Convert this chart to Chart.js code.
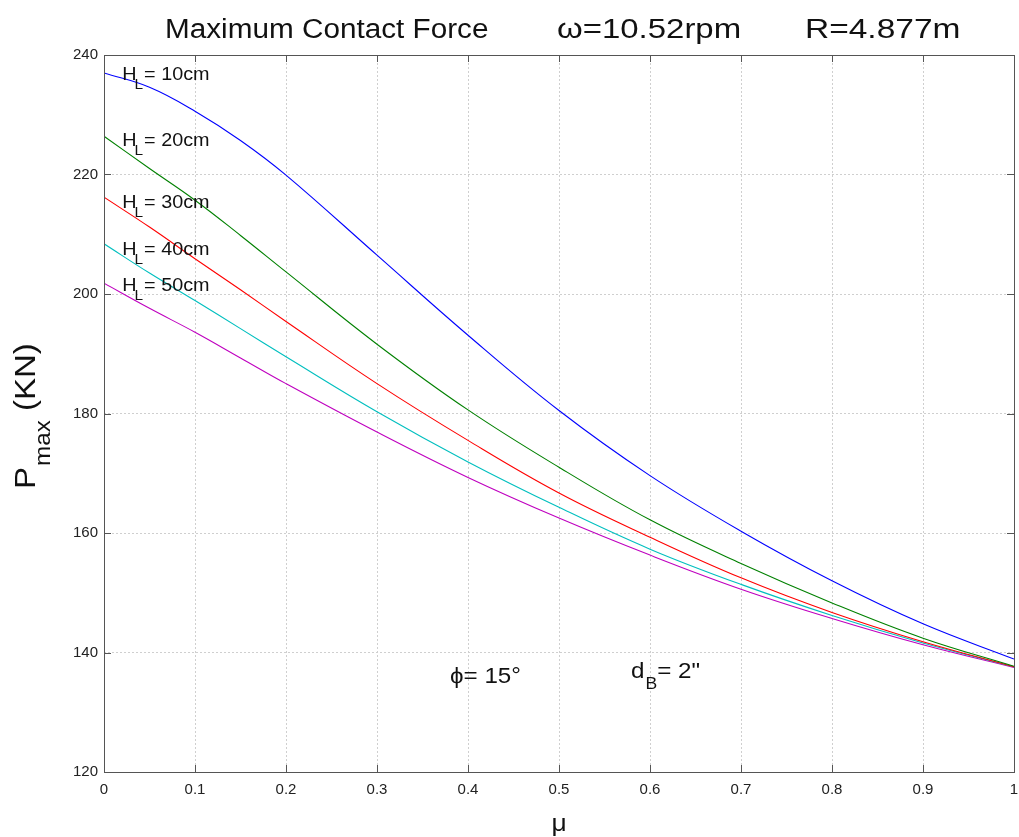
<!DOCTYPE html>
<html>
<head>
<meta charset="utf-8">
<title>Maximum Contact Force</title>
<script src="https://cdn.jsdelivr.net/npm/chart.js@4/dist/chart.umd.min.js"></script>
<style>
  html, body { margin: 0; padding: 0; background: #ffffff; }
  #wrap { width: 1019px; height: 837px; position: relative; }
</style>
</head>
<body>
<div id="wrap"><canvas id="chart" width="1019" height="837"></canvas></div>
<script>
// Friction coefficient samples (x axis)
const mu = [0, 0.05, 0.1, 0.15, 0.2, 0.3, 0.4, 0.5, 0.6, 0.7, 0.8, 0.9, 1.0];

// Maximum contact force P_max (KN) for each liner height H_L
const pH10 = [237.0, 234.6, 230.6, 225.7, 219.9, 206.5, 193.1, 180.5, 169.6, 160.3, 152.0, 144.8, 138.9];
const pH20 = [226.4, 221.0, 215.7, 209.8, 203.7, 191.6, 180.6, 171.0, 162.2, 154.9, 148.3, 142.4, 137.7];
const pH30 = [216.2, 211.2, 205.9, 200.7, 195.4, 185.0, 175.5, 166.7, 159.3, 152.5, 146.7, 141.8, 137.6];
const pH40 = [208.4, 203.5, 198.9, 194.2, 189.5, 180.3, 171.9, 164.3, 157.3, 151.4, 146.2, 141.6, 137.6];
const pH50 = [201.8, 197.6, 193.6, 189.3, 185.0, 176.9, 169.3, 162.5, 156.3, 150.6, 145.7, 141.3, 137.5];

const seriesNames = ['10cm', '20cm', '30cm', '40cm', '50cm'];
const seriesValues = [pH10, pH20, pH30, pH40, pH50];
const seriesColors = ['#0000ff', '#008000', '#ff0000', '#00bfbf', '#bf00bf'];

// Axis ticks
const xTicks = [0, 0.1, 0.2, 0.3, 0.4, 0.5, 0.6, 0.7, 0.8, 0.9, 1];
const yTicks = [120, 140, 160, 180, 200, 220, 240];

// Curve labels: anchor (mu, P) of the text baseline start
const labelMu = 0.02;
const labelP = [235.8, 224.8, 214.4, 206.6, 200.5];

const FONT = '"Liberation Sans", Arial, Helvetica, sans-serif';

function stretchedText(ctx, str, x, y, size, stretch, align) {
  const s = stretch || 1.1;
  ctx.save();
  ctx.font = size + 'px ' + FONT;
  const w = ctx.measureText(str).width * s;
  let left = x;
  if (align === 'center') left = x - w / 2;
  ctx.translate(left, y);
  ctx.scale(s, 1);
  ctx.textAlign = 'left';
  ctx.textBaseline = 'alphabetic';
  ctx.fillText(str, 0, 0);
  ctx.restore();
  return w;
}

// Frame, inward tick marks and text annotations
const decorations = {
  id: 'decorations',
  afterDraw(chart) {
    const ctx = chart.ctx;
    const a = chart.chartArea;
    const xs = chart.scales.x, ys = chart.scales.y;
    ctx.save();

    // plot box
    ctx.strokeStyle = '#555555';
    ctx.lineWidth = 1;
    ctx.strokeRect(Math.round(a.left) + 0.5, Math.round(a.top) + 0.5,
                   Math.round(a.right - a.left), Math.round(a.bottom - a.top));

    // inward ticks on all four sides
    const tl = 7;
    ctx.beginPath();
    xTicks.forEach(v => {
      const px = Math.round(xs.getPixelForValue(v)) + 0.5;
      ctx.moveTo(px, a.bottom); ctx.lineTo(px, a.bottom - tl);
      ctx.moveTo(px, a.top); ctx.lineTo(px, a.top + tl);
    });
    yTicks.forEach(v => {
      const py = Math.round(ys.getPixelForValue(v)) + 0.5;
      ctx.moveTo(a.left, py); ctx.lineTo(a.left + tl, py);
      ctx.moveTo(a.right, py); ctx.lineTo(a.right - tl, py);
    });
    ctx.stroke();

    ctx.fillStyle = '#111111';

    // title
    stretchedText(ctx, 'Maximum Contact Force', 165, 37.5, 27, 1.1);
    stretchedText(ctx, '\u03c9=10.52rpm', 557, 37.5, 27, 1.22);
    stretchedText(ctx, 'R=4.877m', 805, 37.5, 27, 1.24);

    // curve labels  H_L = ..
    seriesNames.forEach((name, i) => {
      const x0 = xs.getPixelForValue(labelMu);
      const y0 = ys.getPixelForValue(labelP[i]);
      const wH = stretchedText(ctx, 'H', x0, y0, 18);
      const wL = stretchedText(ctx, 'L', x0 + wH - 2, y0 + 9, 14);
      stretchedText(ctx, '= ' + name, x0 + wH - 2 + wL + 1, y0, 18);
    });

    // parameter notes inside the plot
    const wPhi = stretchedText(ctx, '\u03d5', 450, 683, 22);
    stretchedText(ctx, '= 15\u00b0', 450 + wPhi, 683, 22);
    const wd = stretchedText(ctx, 'd', 631, 678, 22);
    const wB = stretchedText(ctx, 'B', 631 + wd + 1, 689, 16);
    stretchedText(ctx, '= 2"', 631 + wd + 1 + wB, 678, 22);

    // x axis title
    stretchedText(ctx, '\u03bc', (a.left + a.right) / 2, 831, 24, 1.1, 'center');

    // y axis title  P_max (KN), rotated
    ctx.save();
    ctx.translate(35, 489);
    ctx.rotate(-Math.PI / 2);
    const wP = stretchedText(ctx, 'P', 0, 0, 30);
    const wm = stretchedText(ctx, 'max', wP + 1, 15, 22);
    stretchedText(ctx, ' (KN)', wP + 1 + wm, 0, 30);
    ctx.restore();

    ctx.restore();
  }
};

const datasets = seriesValues.map((vals, i) => ({
  label: 'H_L = ' + seriesNames[i],
  data: mu.map((m, k) => ({ x: m, y: vals[k] })),
  borderColor: seriesColors[i],
  backgroundColor: seriesColors[i],
  borderWidth: 1.1,
  pointRadius: 0,
  fill: false,
  tension: 0.4
}));

new Chart(document.getElementById('chart'), {
  type: 'line',
  data: { datasets },
  options: {
    responsive: false,
    animation: false,
    layout: { padding: { top: 55, right: 5, left: 0, bottom: 0 } },
    plugins: {
      legend: { display: false },
      title: { display: false },
      tooltip: { enabled: false }
    },
    scales: {
      x: {
        type: 'linear',
        min: 0, max: 1,
        afterFit(scale) {
          scale.height = 65;
          scale.paddingLeft = 0;
          scale.paddingRight = 0;
        },
        afterBuildTicks(scale) { scale.ticks = xTicks.map(v => ({ value: v })); },
        ticks: {
          padding: 9,
          color: '#222222',
          font: { family: FONT, size: 15 },
          maxRotation: 0,
          callback: v => String(v)
        },
        grid: { color: '#cfcfcf', drawTicks: false, lineWidth: 1 },
        border: { display: false, dash: [2, 2] }
      },
      y: {
        type: 'linear',
        min: 120, max: 240,
        afterFit(scale) {
          scale.width = 104;
          scale.paddingTop = 0;
          scale.paddingBottom = 0;
        },
        afterBuildTicks(scale) { scale.ticks = yTicks.map(v => ({ value: v })); },
        ticks: {
          padding: 6,
          color: '#222222',
          font: { family: FONT, size: 15 },
          callback: v => String(v)
        },
        grid: { color: '#cfcfcf', drawTicks: false, lineWidth: 1 },
        border: { display: false, dash: [2, 2] }
      }
    }
  },
  plugins: [decorations]
});
</script>
</body>
</html>
